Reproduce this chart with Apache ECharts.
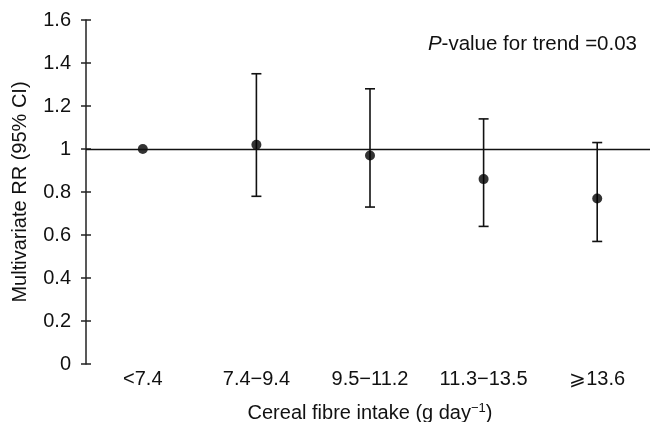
<!DOCTYPE html>
<html>
<head>
<meta charset="utf-8">
<script src="https://cdn.jsdelivr.net/npm/echarts@6/dist/echarts.min.js"></script>
<style>html,body{margin:0;padding:0;background:#fff;}#c{width:650px;height:422px;}</style>
</head>
<body>
<div id="c"></div>
<script>
var categories = ['<7.4', '7.4\u22129.4', '9.5\u221211.2', '11.3\u221213.5', '\u2a7e13.6'];
var rr = [1.0, 1.02, 0.97, 0.86, 0.77];
var lower = [null, 0.78, 0.73, 0.64, 0.57];
var upper = [null, 1.35, 1.28, 1.14, 1.03];
var yTicks = [0, 0.2, 0.4, 0.6, 0.8, 1, 1.2, 1.4, 1.6];

var FONT = '"Liberation Sans", Arial, Helvetica, sans-serif';
var INK = '#111';
var FS = 20;

var errData = [];
for (var i = 0; i < categories.length; i++) {
  if (lower[i] != null) errData.push([i, lower[i], upper[i]]);
}

var chart = echarts.init(document.getElementById('c'));
chart.setOption({
  animation: false,
  backgroundColor: '#fff',
  textStyle: { fontFamily: FONT, color: INK },
  grid: { left: 86, top: 20, bottom: 58, width: 568, containLabel: false, outerBoundsMode: 'none' },
  xAxis: {
    type: 'category',
    data: categories,
    boundaryGap: true,
    axisLine: { show: false },
    axisTick: { show: false },
    axisLabel: { fontSize: FS, color: INK, fontFamily: FONT, margin: 5, interval: 0 },
    name: '{a|Cereal fibre intake (g day}{s|\u22121}{a|)}',
    nameLocation: 'middle',
    nameGap: 38,
    nameTextStyle: {
      rich: {
        a: { fontSize: FS, color: INK, fontFamily: FONT },
        s: { fontSize: 13, color: INK, fontFamily: FONT, verticalAlign: 'top', padding: [0, 0, 9, 0] }
      }
    }
  },
  yAxis: [{
    type: 'value',
    min: 0, max: 1.6, interval: 0.2,
    axisLine: { show: true, lineStyle: { color: '#222', width: 1.5 } },
    axisTick: { show: true, inside: false, length: 5, lineStyle: { color: '#222', width: 1.5 } },
    splitLine: { show: false },
    axisLabel: { fontSize: FS, color: INK, fontFamily: FONT, margin: 15,
      formatter: function (v) { return String(Math.round(v * 10) / 10); } },
    name: 'Multivariate RR (95% CI)',
    nameLocation: 'middle',
    nameGap: 56,
    nameTextStyle: { fontSize: FS, color: INK, fontFamily: FONT }
  }, {
    type: 'value',
    position: 'left',
    min: 0, max: 1.6, interval: 0.2,
    axisLine: { show: false },
    axisTick: { show: true, inside: true, length: 5, lineStyle: { color: '#222', width: 1.5 } },
    axisLabel: { show: false },
    splitLine: { show: false }
  }],
  series: [{
    type: 'custom',
    data: errData,
    renderItem: function (params, api) {
      var x = api.coord([api.value(0), api.value(1)])[0];
      var yl = api.coord([api.value(0), api.value(1)])[1];
      var yu = api.coord([api.value(0), api.value(2)])[1];
      var w = 5;
      var st = { stroke: INK, lineWidth: 1.6 };
      return { type: 'group', children: [
        { type: 'line', shape: { x1: x, y1: yl, x2: x, y2: yu }, style: st },
        { type: 'line', shape: { x1: x - w, y1: yl, x2: x + w, y2: yl }, style: st },
        { type: 'line', shape: { x1: x - w, y1: yu, x2: x + w, y2: yu }, style: st }
      ]};
    },
    z: 2
  }, {
    type: 'scatter',
    data: rr,
    symbol: 'circle',
    symbolSize: 10,
    itemStyle: { color: '#000' },
    z: 3,
    markLine: {
      silent: true,
      symbol: 'none',
      label: { show: false },
      lineStyle: { color: INK, width: 1.4, type: 'solid' },
      data: [{ yAxis: 1 }]
    }
  }],
  graphic: [{
    type: 'text',
    right: 13,
    top: 34,
    style: {
      text: '{i|P}{n|-value for trend =0.03}',
      rich: {
        i: { fontSize: 20.5, fontStyle: 'italic', fill: INK, fontFamily: FONT },
        n: { fontSize: 20.5, fill: INK, fontFamily: FONT }
      }
    }
  }]
});
</script>
</body>
</html>
